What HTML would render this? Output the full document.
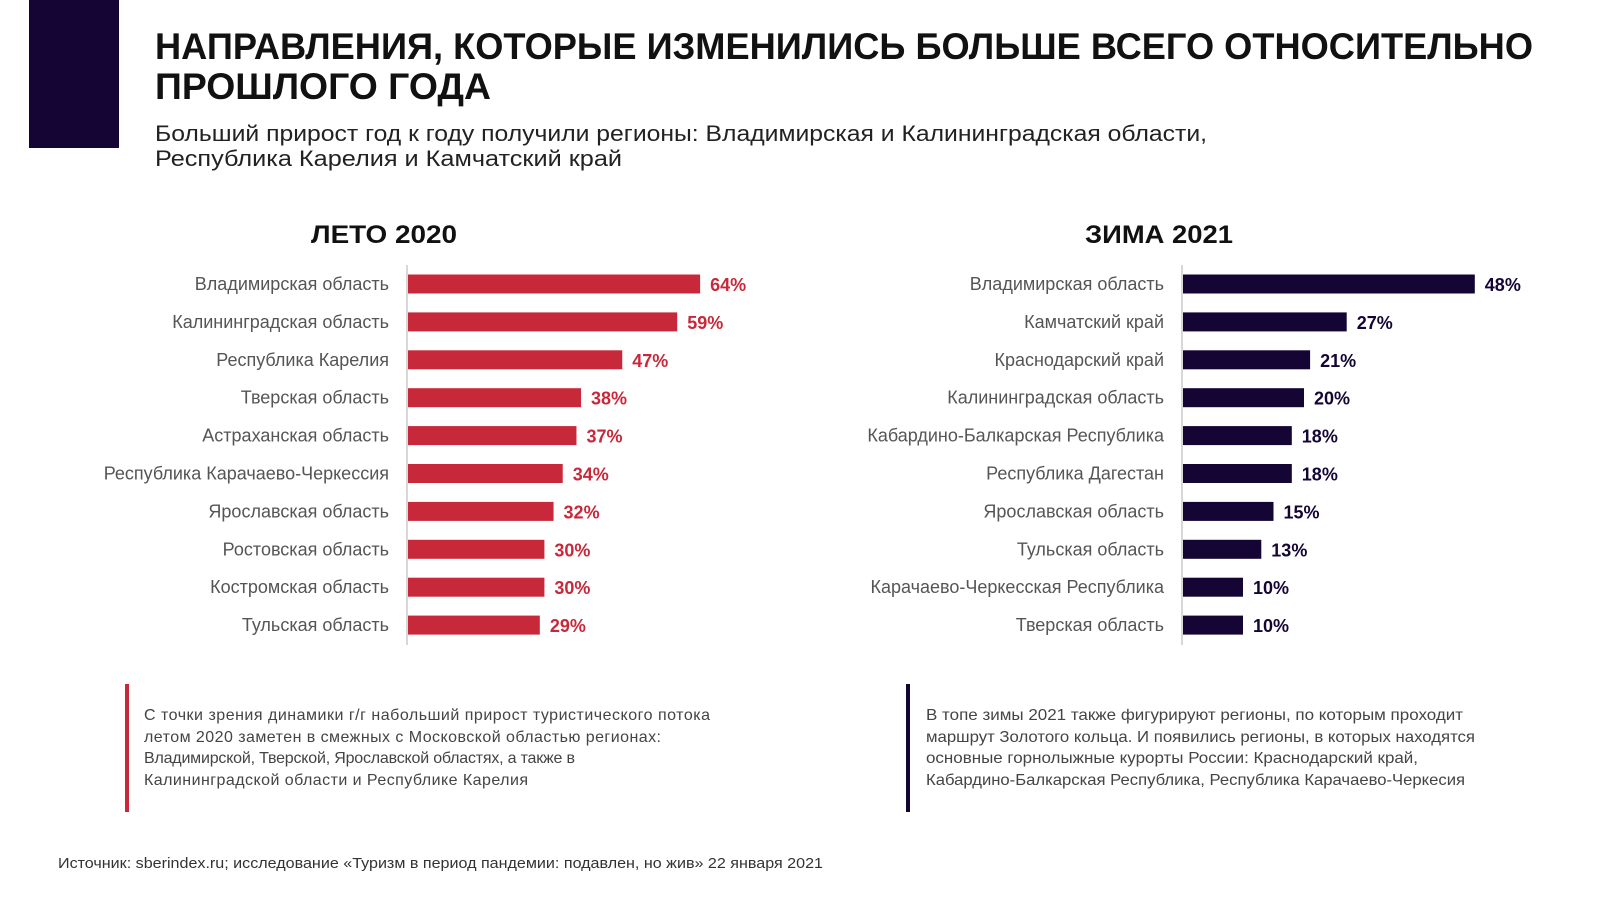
<!DOCTYPE html>
<html><head><meta charset="utf-8">
<style>
html,body{margin:0;padding:0;background:#fff;}
svg{display:block;}
text{font-family:"Liberation Sans","DejaVu Sans",sans-serif;}
</style></head>
<body>
<svg id="s" width="1600" height="900" viewBox="0 0 1600 900" xmlns="http://www.w3.org/2000/svg">
  <rect x="29" y="0" width="90" height="148" fill="#150534"/>
  <text x="155" y="59" font-size="37" font-weight="bold" fill="#111" textLength="1378" lengthAdjust="spacingAndGlyphs">НАПРАВЛЕНИЯ, КОТОРЫЕ ИЗМЕНИЛИСЬ БОЛЬШЕ ВСЕГО ОТНОСИТЕЛЬНО</text>
  <text x="155" y="99" font-size="37" font-weight="bold" fill="#111" textLength="336" lengthAdjust="spacingAndGlyphs">ПРОШЛОГО ГОДА</text>
  <text x="155" y="141" font-size="22" fill="#222" textLength="1052" lengthAdjust="spacingAndGlyphs">Больший прирост год к году получили регионы: Владимирская и Калининградская области,</text>
  <text x="155" y="166" font-size="22" fill="#222" textLength="467" lengthAdjust="spacingAndGlyphs">Республика Карелия и Камчатский край</text>
  <text x="311" y="243" font-size="25" font-weight="bold" fill="#111" textLength="146" lengthAdjust="spacingAndGlyphs">ЛЕТО 2020</text>
  <text x="1085" y="243" font-size="25" font-weight="bold" fill="#111" textLength="148" lengthAdjust="spacingAndGlyphs">ЗИМА 2021</text>
  <g id="left"></g>
  <g id="right"></g>
  <rect x="125" y="684" width="4" height="128" fill="#c8293a"/>
  <g font-size="16" fill="#444" lengthAdjust="spacingAndGlyphs">
    <text x="144" y="720" textLength="566">С точки зрения динамики г/г набольший прирост туристического потока</text>
    <text x="144" y="742" textLength="517">летом 2020 заметен в смежных с Московской областью регионах:</text>
    <text x="144" y="763" textLength="431">Владимирской, Тверской, Ярославской областях, а также в</text>
    <text x="144" y="785" textLength="384">Калининградской области и Республике Карелия</text>
  </g>
  <rect x="906" y="684" width="4" height="128" fill="#150534"/>
  <g font-size="16" fill="#444">
    <text x="926" y="720" textLength="537" lengthAdjust="spacingAndGlyphs">В топе зимы 2021 также фигурируют регионы, по которым проходит</text>
    <text x="926" y="742" textLength="549" lengthAdjust="spacingAndGlyphs">маршрут Золотого кольца. И появились регионы, в которых находятся</text>
    <text x="926" y="763" textLength="492" lengthAdjust="spacingAndGlyphs">основные горнолыжные курорты России: Краснодарский край,</text>
    <text x="926" y="785" textLength="539" lengthAdjust="spacingAndGlyphs">Кабардино-Балкарская Республика, Республика Карачаево-Черкесия</text>
  </g>
  <text x="58" y="868" font-size="14.5" fill="#333" textLength="765" lengthAdjust="spacingAndGlyphs">Источник: sberindex.ru;  исследование «Туризм в период пандемии: подавлен, но жив» 22 января 2021</text>
</svg>
<script>
const summerCategories = ["Владимирская область","Калининградская область","Республика Карелия","Тверская область","Астраханская область","Республика Карачаево-Черкессия","Ярославская область","Ростовская область","Костромская область","Тульская область"];
const summerValues = [64,59,47,38,37,34,32,30,30,29];
const winterCategories = ["Владимирская область","Камчатский край","Краснодарский край","Калининградская область","Кабардино-Балкарская Республика","Республика Дагестан","Ярославская область","Тульская область","Карачаево-Черкесская Республика","Тверская область"];
const winterValues = [48,27,21,20,18,18,15,13,10,10];

const NS = "http://www.w3.org/2000/svg";
function mk(tag, attrs, parent){const e=document.createElementNS(NS,tag);for(const k in attrs)e.setAttribute(k,attrs[k]);parent.appendChild(e);return e;}
function drawChart(g, cats, vals, axisX, pxPer, color, labelColor, prefix){
  const y0=284, step=37.9, bh=19;
  const yPos=i=>y0+i*step;
  const xPos=v=>axisX+v*pxPer;
  const ax=mk("line",{x1:axisX,x2:axisX,y1:265,y2:645,stroke:"#ccc","stroke-width":1.5},g);
  
  
  cats.forEach((c,i)=>{
    const y=yPos(i);
    const t=mk("text",{x:axisX-18,y:y+6,"font-size":18,fill:"#555","text-anchor":"end"},g);
    t.textContent=c;
    
    
    const r=mk("rect",{x:axisX+1,y:y-bh/2,width:xPos(vals[i])-axisX-1,height:bh,fill:color},g);
    
    
    const v=mk("text",{x:xPos(vals[i])+10,y:y+7,"font-size":18,"font-weight":"bold",fill:labelColor},g);
    v.textContent=vals[i]+"%";
    
    
  });
}
drawChart(document.getElementById("left"), summerCategories, summerValues, 407, 4.58, "#c8293a", "#c8293a", "summer");
drawChart(document.getElementById("right"), winterCategories, winterValues, 1182, 6.1, "#150534", "#150534", "winter");
</script>
</body></html>
